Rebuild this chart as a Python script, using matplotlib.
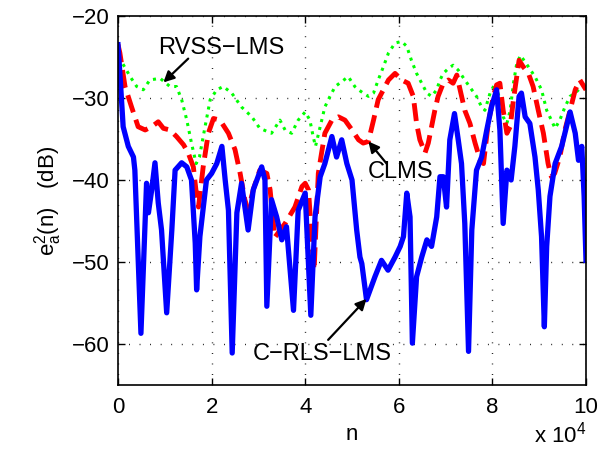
import numpy as np
import matplotlib
matplotlib.use('Agg')
import matplotlib.pyplot as plt

plt.rcParams['font.family'] = ['Liberation Sans', 'DejaVu Sans']
plt.rcParams['font.size'] = 16
plt.rcParams['mathtext.fontset'] = 'custom'
plt.rcParams['mathtext.rm'] = 'Liberation Sans'
plt.rcParams['mathtext.it'] = 'Liberation Sans'

# C-RLS-LMS (blue), n in units of 1e4, values in dB
blue_x = [0, 0.04, 0.11, 0.22, 0.33, 0.36, 0.49, 0.61, 0.65, 0.72,
          0.79, 0.86, 0.93, 1.04, 1.15, 1.22, 1.36, 1.47, 1.57, 1.65,
          1.68, 1.75, 1.89, 2.0, 2.11, 2.22, 2.29, 2.36, 2.44, 2.54,
          2.64, 2.78, 2.89, 3.07, 3.14, 3.18, 3.28, 3.39, 3.5, 3.6,
          3.75, 3.85, 4.0, 4.12, 4.21, 4.32, 4.42, 4.57, 4.67, 4.78,
          4.89, 5.0, 5.1, 5.17, 5.21, 5.31, 5.49, 5.63, 5.77, 5.92,
          6.03, 6.1, 6.17, 6.24, 6.29, 6.38, 6.49, 6.6, 6.7, 6.81,
          6.88, 6.95, 7.02, 7.09, 7.19, 7.27, 7.34, 7.41, 7.49, 7.56,
          7.66, 7.77, 7.88, 7.98, 8.09, 8.16, 8.23, 8.31, 8.4, 8.48,
          8.57, 8.62, 8.7, 8.8, 8.91, 8.98, 9.05, 9.11, 9.16, 9.23,
          9.34, 9.48, 9.66, 9.77, 9.84, 9.91, 9.96, 10.0]
blue_y = [-23.5, -27, -33.5, -35.9, -37.2, -38.8, -58.7, -40.4, -44, -41.2,
          -37.9, -42.8, -46.1, -56.2, -46.1, -38.8, -37.9, -38.4, -40, -47.7,
          -53.4, -46.9, -40, -39.2, -38, -35.9, -40, -43.7, -61.1, -44,
          -40.4, -46.1, -41.2, -38.4, -40, -55.4, -42.4, -44.5, -47.3, -45.7,
          -55.9, -43.7, -41.6, -56.5, -44.5, -39.6, -38, -34.7, -37.2, -35.1,
          -38, -40, -46.1, -49.4, -50.2, -54.6, -51.8, -49.8, -51, -49.4,
          -48.1, -46.9, -41.6, -44.5, -59.9, -51.8, -49.4, -47.3, -48.1, -44.5,
          -39.6, -39.6, -43.3, -35.1, -31.9, -35.1, -38, -45.3, -60.9, -46.1,
          -38.8, -37.2, -33.9, -31.1, -29, -33.9, -45.3, -38.8, -40, -35.9,
          -29.8, -29.4, -32.3, -33.1, -37.2, -41.2, -46.9, -57.9, -48.1, -42,
          -38, -35.9, -31.7, -34.3, -37.6, -35.9, -42, -49.8]

# CLMS (red)
red_x = [0, 0.04, 0.15, 0.29, 0.43, 0.58, 0.72, 0.86, 0.97, 1.11,
         1.25, 1.4, 1.5, 1.61, 1.68, 1.72, 1.82, 1.93, 2.04, 2.18,
         2.36, 2.5, 2.61, 2.71, 2.78, 2.9, 3.03, 3.18, 3.25, 3.35,
         3.57, 3.78, 3.93, 4.0, 4.07, 4.15, 4.19, 4.28, 4.35, 4.42,
         4.57, 4.71, 4.85, 5.0, 5.14, 5.24, 5.35, 5.46, 5.56, 5.67,
         5.78, 5.92, 6.06, 6.2, 6.31, 6.38, 6.45, 6.56, 6.63, 6.7,
         6.77, 6.84, 6.95, 7.06, 7.16, 7.24, 7.31, 7.41, 7.52, 7.63,
         7.74, 7.81, 7.91, 8.02, 8.09, 8.16, 8.23, 8.31, 8.38, 8.45,
         8.52, 8.57, 8.66, 8.77, 8.87, 8.98, 9.09, 9.19, 9.26, 9.33,
         9.44, 9.55, 9.66, 9.77, 9.87, 10.0]
red_y = [-23.5, -24.5, -28.6, -31.1, -33.5, -33.9, -33.5, -32.9, -33.7, -33.9,
         -34.7, -35.7, -36.7, -38.4, -42, -43.3, -38.4, -34.3, -32.5, -32.7,
         -34.3, -36.3, -39.2, -42.4, -43.7, -41, -38.8, -39.2, -41.2, -47,
         -45.3, -43.3, -40.8, -40.4, -41.2, -48.1, -51, -39.2, -36.7, -34.3,
         -32.7, -32.3, -32.7, -33.9, -35.1, -35.5, -35.3, -32.7, -30.2, -29,
         -27.8, -27, -27.8, -28.2, -29.8, -33.1, -35.1, -36.7, -35.5, -33.5,
         -31.5, -29.8, -28.2, -27.8, -28.2, -27.2, -29, -31.5, -33.1, -35.5,
         -37.6, -38, -33.1, -29.8, -28.4, -28.2, -31.5, -34.3, -33.5, -30.2,
         -27.4, -25.4, -26.2, -27, -28.6, -31.5, -34.3, -38, -39.6, -39.2,
         -37.2, -33.9, -31.5, -29, -27.8, -29]

# RVSS-LMS (green)
green_x = [0, 0.08, 0.26, 0.4, 0.54, 0.68, 0.9, 1.11, 1.25, 1.36,
           1.47, 1.57, 1.67, 1.74, 1.86, 1.97, 2.11, 2.25, 2.43, 2.64,
           2.86, 3.03, 3.28, 3.46, 3.57, 3.71, 3.85, 4.0, 4.1, 4.17,
           4.22, 4.32, 4.42, 4.53, 4.64, 4.78, 4.92, 5.06, 5.14, 5.24,
           5.35, 5.46, 5.56, 5.67, 5.78, 5.92, 6.06, 6.17, 6.27, 6.38,
           6.49, 6.6, 6.7, 6.81, 6.88, 6.95, 7.06, 7.16, 7.27, 7.41,
           7.56, 7.66, 7.77, 7.84, 7.95, 8.06, 8.16, 8.23, 8.31, 8.38,
           8.45, 8.52, 8.6, 8.77, 8.91, 9.05, 9.16, 9.26, 9.34, 9.44,
           9.55, 9.66, 9.77, 9.91, 10.0]
green_y = [-24, -25.6, -27.4, -28.6, -29, -27.8, -27.6, -28.6, -28.6, -30.2,
           -32.7, -35.5, -38, -37.2, -33.5, -30.2, -29, -28.6, -29.4, -31.1,
           -32.3, -33.7, -34.3, -32.7, -33.9, -34.3, -32.7, -31.7, -32.7, -34.7,
           -35.9, -33.5, -31.1, -29.8, -28.6, -28, -27.4, -28.6, -29, -29.4,
           -29.8, -29.4, -27.8, -26.2, -24.5, -23.3, -23.1, -23.7, -25.4, -27,
           -28.2, -29.4, -29.8, -29, -27.8, -27, -26.4, -26, -26.6, -27.8,
           -29, -29.8, -31.1, -31.5, -29.4, -28.2, -30.2, -32.3, -33.1, -31.5,
           -28.2, -25.8, -24.8, -26.2, -27.4, -29, -31.5, -32.7, -33.7, -32.7,
           -31.1, -29.8, -29.4, -28.6, -28.2]

xticks = [0, 2, 4, 6, 8, 10]
yticks = [-60, -50, -40, -30, -20]

fig = plt.figure(figsize=(6.03, 4.68), dpi=100)
ax = fig.add_axes([0.1957, 0.1774, 0.7761, 0.7884])

ax.plot(green_x, green_y, color=(0, 1, 0), ls=':', lw=2.2)
ax.plot(red_x, red_y, color='r', ls='--', lw=3.5)
ax.plot(blue_x, blue_y, color='b', ls='-', lw=3.8)

ax.set_xlim(0, 10)
ax.set_ylim(-65, -20)
ax.set_xticks(xticks)
ax.set_yticks(yticks)
ax.tick_params(direction='in', top=True, right=True, length=5, width=1,
               labelsize=16)
ax.tick_params(axis='x', pad=9)
ax.tick_params(axis='y', pad=6)
for s in ax.spines.values():
    s.set_linewidth(1.2)
ax.grid(True, color='k', ls=(0, (0.6, 7)), lw=1)

ax.set_xlabel('n', fontsize=16, labelpad=4)
ax.set_ylabel(r'$\mathregular{e_a^2(n)}$   (dB)', fontsize=16, labelpad=6)
ax.text(1.0, -0.10, r'x $\mathregular{10^4}$', transform=ax.transAxes,
        ha='right', va='top', fontsize=16)

arrow = dict(arrowstyle='-|>', color='k', lw=1.6, mutation_scale=16,
             shrinkA=0, shrinkB=0)
ax.text(0.855, -23.9, 'RVSS\u2212LMS', ha='left', va='center', fontsize=17)
ax.annotate('', xy=(0.97, -28.1), xytext=(1.50, -25.2), arrowprops=arrow)
ax.text(5.34, -39.0, 'CLMS', ha='left', va='center', fontsize=17)
ax.annotate('', xy=(5.35, -35.3), xytext=(5.74, -38.0), arrowprops=arrow)
ax.text(2.88, -61.2, 'C\u2212RLS\u2212LMS', ha='left', va='center', fontsize=17)
ax.annotate('', xy=(5.31, -54.5), xytext=(4.49, -59.5), arrowprops=arrow)

fig.savefig('out.png', dpi=100)
